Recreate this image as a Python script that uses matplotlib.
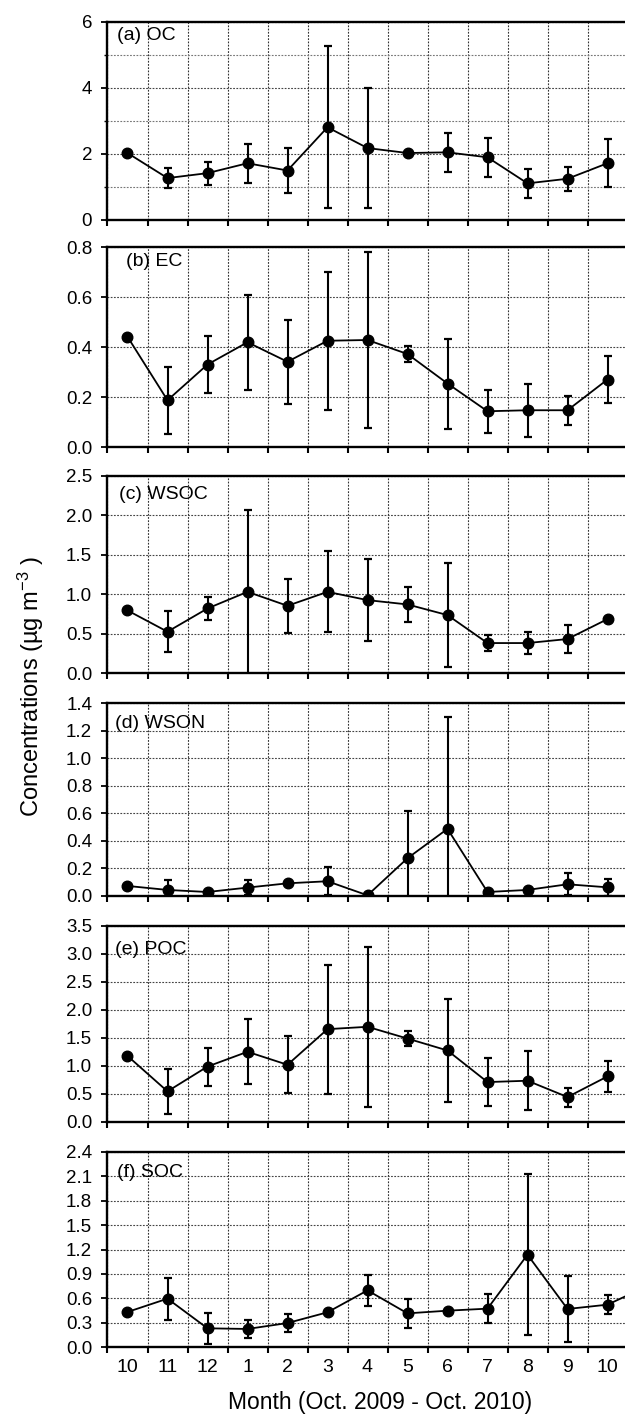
import matplotlib.pyplot as plt
from matplotlib.ticker import MultipleLocator

plt.rcParams['font.family'] = ['Liberation Sans', 'DejaVu Sans']
plt.rcParams['mathtext.fontset'] = 'custom'
plt.rcParams['mathtext.rm'] = 'Liberation Sans'
plt.rcParams['mathtext.it'] = 'Liberation Sans:italic'

months = ['10', '11', '12', '1', '2', '3', '4', '5', '6', '7', '8', '9', '10']

oc_mean = [2.03, 1.27, 1.42, 1.72, 1.50, 2.81, 2.18, 2.03, 2.05, 1.90, 1.11, 1.25, 1.72]
oc_sd = [0, 0.30, 0.35, 0.59, 0.67, 2.45, 1.81, 0, 0.59, 0.59, 0.43, 0.37, 0.72]

ec_mean = [0.441, 0.187, 0.330, 0.419, 0.341, 0.425, 0.428, 0.372, 0.254, 0.143, 0.147, 0.147, 0.270]
ec_sd = [0, 0.134, 0.114, 0.190, 0.167, 0.275, 0.353, 0.033, 0.180, 0.085, 0.105, 0.058, 0.095]

wsoc_mean = [0.794, 0.524, 0.819, 1.03, 0.853, 1.03, 0.925, 0.87, 0.735, 0.38, 0.38, 0.431, 0.684]
wsoc_sd = [0, 0.26, 0.145, 1.04, 0.345, 0.513, 0.52, 0.22, 0.655, 0.105, 0.14, 0.18, 0]

wson_mean = [0.073, 0.044, 0.029, 0.061, 0.092, 0.107, 0.005, 0.274, 0.487, 0.029, 0.044, 0.085, 0.063]
wson_sd = [0, 0.072, 0.008, 0.057, 0.015, 0.103, 0, 0.346, 0.809, 0, 0.010, 0.080, 0.063]

poc_mean = [1.18, 0.547, 0.99, 1.254, 1.022, 1.658, 1.70, 1.49, 1.277, 0.713, 0.737, 0.446, 0.814]
poc_sd = [0, 0.40, 0.34, 0.58, 0.51, 1.15, 1.43, 0.13, 0.915, 0.43, 0.53, 0.17, 0.28]

# SOC has one more month that runs off the right edge
soc_mean = [0.431, 0.595, 0.23, 0.222, 0.295, 0.427, 0.697, 0.414, 0.447, 0.472, 1.136, 0.468, 0.521, 0.75]
soc_sd = [0, 0.257, 0.193, 0.11, 0.113, 0, 0.19, 0.175, 0.02, 0.18, 0.99, 0.41, 0.113, 0]

panels = [
    ('(a) OC', oc_mean, oc_sd, 6, 2),
    ('(b) EC', ec_mean, ec_sd, 0.8, 0.2),
    ('(c) WSOC', wsoc_mean, wsoc_sd, 2.5, 0.5),
    ('(d) WSON', wson_mean, wson_sd, 1.4, 0.2),
    ('(e) POC', poc_mean, poc_sd, 3.5, 0.5),
    ('(f) SOC', soc_mean, soc_sd, 2.4, 0.3),
]

# panel top/bottom in pixels, label offsets
W, H = 625, 1417
tops = [22, 247, 476, 703, 926, 1152]
bottoms = [220, 447, 673, 896, 1122, 1347]
lab_x = [0.019, 0.035, 0.023, 0.015, 0.015, 0.019]
lab_y = [0.066, 0.075, 0.096, 0.104, 0.122, 0.103]

grid_ls = (0, (1.6, 1.3))

fig = plt.figure(figsize=(W / 100, H / 100), dpi=100)
left = 107.5 / W
width = 520 / W

for i, (name, mean_, sd_, ymax, step) in enumerate(panels):
    ax = fig.add_axes([left, 1 - bottoms[i] / H, width, (bottoms[i] - tops[i]) / H])
    x = list(range(len(mean_)))
    ax.errorbar(x, mean_, yerr=sd_, color='black', lw=1.3, marker='o', ms=7.6,
                capsize=3.2, capthick=1.6, elinewidth=1.5, zorder=3)
    ax.set_xlim(-0.5, 12.5)
    ax.set_ylim(0, ymax)

    ax.xaxis.set_major_locator(MultipleLocator(1, offset=0.5))
    ax.set_xticks(range(len(months)), minor=True)
    ax.xaxis.set_major_formatter(plt.NullFormatter())
    ax.yaxis.set_major_locator(MultipleLocator(step))
    if name == '(a) OC':
        ax.yaxis.set_minor_locator(MultipleLocator(1))
        ax.grid(True, which='minor', axis='y', color='#777777', lw=0.8, ls=grid_ls)
    ax.tick_params(axis='x', which='major', direction='out', length=4, width=1.5)
    ax.tick_params(axis='y', which='major', direction='out', length=4, width=1.3,
                   labelsize=13.5, pad=7)
    ax.tick_params(axis='y', which='minor', direction='out', length=2.5, width=1.0)
    if i == len(panels) - 1:
        ax.set_xticklabels(months, minor=True)
        ax.tick_params(axis='x', which='minor', length=0, labelsize=14, pad=9)
    else:
        ax.tick_params(axis='x', which='minor', length=0, labelbottom=False)

    if name == '(a) OC':
        ax.yaxis.set_major_formatter(plt.FormatStrFormatter('%d'))
    else:
        ax.yaxis.set_major_formatter(plt.FormatStrFormatter('%.1f'))

    ax.grid(True, which='major', axis='x', color='#333333', lw=0.8, ls=grid_ls)
    ax.grid(True, which='major', axis='y', color='#444444', lw=0.8, ls=grid_ls)
    ax.set_axisbelow(True)
    for s in ax.spines.values():
        s.set_linewidth(1.7)

    ax.text(lab_x[i], 1 - lab_y[i], name, transform=ax.transAxes,
            fontsize=14, va='center', ha='left')

fig.text(31 / W, 1 - 686 / H, 'Concentrations (µg m$^{-3}$ )', rotation=90,
         ha='center', va='center', fontsize=17)
fig.text(380 / W, 1 - 1403 / H, 'Month (Oct. 2009 - Oct. 2010)',
         ha='center', va='center', fontsize=16.5)

fig.savefig('out.png', dpi=100)
